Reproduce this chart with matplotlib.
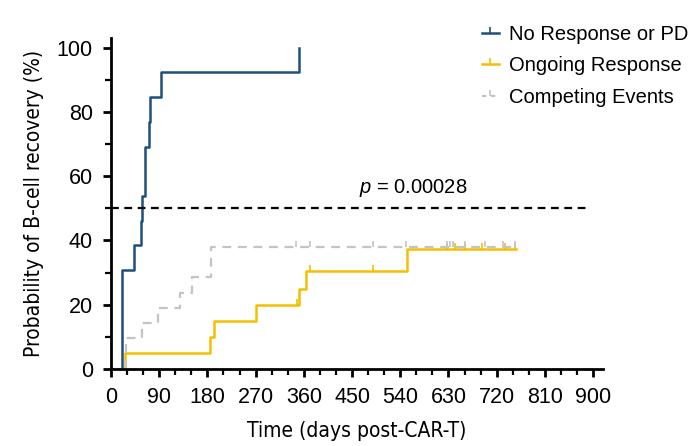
import matplotlib
matplotlib.use("Agg")
import matplotlib.pyplot as plt
from matplotlib import font_manager
from matplotlib.ticker import MultipleLocator
from matplotlib.lines import Line2D

# cumulative incidence of B-cell recovery
nr_days = [0, 20, 21, 42, 56, 57, 63, 64, 71, 73, 93, 351]
nr_prob = [0, 23.1, 30.8, 38.5, 46.2, 53.8, 61.5, 69.2, 76.9, 84.6, 92.3, 100]

ong_days = [0, 26, 184, 193, 270, 351, 364, 553, 756]
ong_prob = [0, 5, 10, 15, 20, 25, 30.6, 37.4, 37.4]
ong_cens_days = [347, 372, 489, 627, 642, 661, 692, 735, 754]
ong_cens_prob = [20, 30.6, 30.6, 37.4, 37.4, 37.4, 37.4, 37.4, 37.4]

comp_days = [0, 28, 58, 87, 129, 151, 186, 758]
comp_prob = [0, 9.5, 14.3, 19.0, 23.8, 28.6, 38.1, 38.1]
comp_cens_days = [346, 372, 489, 551, 627, 633, 639, 661, 698, 732, 754]
comp_cens_prob = [38.1] * len(comp_cens_days)

p_text = "$p$ = 0.00028"

blue = "#1f4f7e"
gold = "#f5bf00"
grey = "#c4c4c4"

plt.rcParams["font.family"] = ["Liberation Sans", "DejaVu Sans"]
plt.rcParams["mathtext.fontset"] = "custom"
plt.rcParams["mathtext.it"] = "Liberation Sans:italic"

# narrow face for the axis titles if one is around
names = {f.name for f in font_manager.fontManager.ttflist}
if "Liberation Sans Narrow" in names:
    lab_kw = dict(family="Liberation Sans Narrow", fontsize=16)
else:
    lab_kw = dict(family="DejaVu Sans", stretch="condensed", fontsize=15)

fig = plt.figure(figsize=(6.96, 4.46), dpi=100)
ax = fig.add_axes([0.1595, 0.1726, 0.7065, 0.7424])

ax.step(nr_days, nr_prob, where="post", color=blue, lw=1.8)
ax.step(ong_days, ong_prob, where="post", color=gold, lw=1.8)
ax.plot(ong_cens_days, ong_cens_prob, ls="none", marker=2, ms=4, mew=1.2, color=gold)
ax.step(comp_days, comp_prob, where="post", color=grey, lw=1.6, ls=(0, (4, 3)))
ax.plot(comp_cens_days, comp_cens_prob, ls="none", marker=2, ms=4, mew=1.2, color=grey)

ax.plot([0, 890], [50, 50], color="black", lw=1.6, ls=(0, (3.5, 2.5)))
ax.text(565, 53, p_text, fontsize=14.5, ha="center", va="bottom")

ax.set_xlim(0, 918)
ax.set_ylim(0, 103)
ax.xaxis.set_major_locator(MultipleLocator(90))
ax.xaxis.set_minor_locator(MultipleLocator(30))
ax.yaxis.set_major_locator(MultipleLocator(20))
ax.yaxis.set_minor_locator(MultipleLocator(10))
for s in ["top", "right"]:
    ax.spines[s].set_visible(False)
for s in ["left", "bottom"]:
    ax.spines[s].set_linewidth(2)
ax.tick_params(which="major", length=6, width=2, labelsize=15.5, pad=7)
ax.tick_params(which="minor", length=4, width=1.6)

ax.set_xlabel("Time (days post-CAR-T)", labelpad=9, **lab_kw)
ax.set_ylabel("Probability of B-cell recovery (%)", labelpad=9, **lab_kw)

handles = [
    Line2D([0, 0.5, 1], [0, 0, 0], color=blue, lw=1.8, marker=2, ms=4, markevery=[1], mew=1.2),
    Line2D([0, 0.5, 1], [0, 0, 0], color=gold, lw=1.8, marker=2, ms=4, markevery=[1], mew=1.2),
    Line2D([0, 0.5, 1], [0, 0, 0], color=grey, lw=1.6, ls=(0, (2, 2)), marker=2, ms=4, markevery=[1], mew=1.2),
]
fig.legend(handles, ["No Response or PD", "Ongoing Response", "Competing Events"],
           loc="upper left", bbox_to_anchor=(0.666, 0.985), frameon=False, fontsize=14.5,
           handlelength=0.85, handletextpad=0.5, labelspacing=0.62)

fig.savefig("out.png", dpi=100)
